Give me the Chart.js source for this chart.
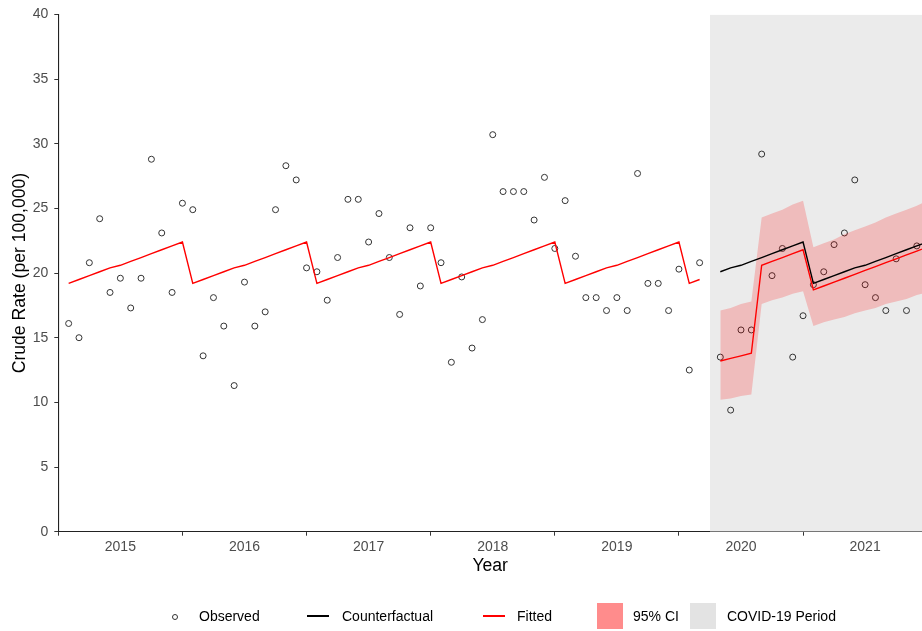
<!DOCTYPE html>
<html>
<head>
<meta charset="utf-8">
<script src="https://cdn.jsdelivr.net/npm/chart.js@4/dist/chart.umd.min.js"></script>
<style>
  html, body { margin: 0; padding: 0; background: #fff; overflow: hidden; }
  #wrap { position: relative; width: 922px; height: 631px; }
  #legend { position: absolute; left: 0; top: 603px; width: 922px; height: 26px;
            font: 14px "Liberation Sans", Arial, sans-serif; color: #000; }
  #legend .txt { position: absolute; top: 0; line-height: 26px; white-space: nowrap; }
  #legend .key { position: absolute; }
</style>
</head>
<body>
<div id="wrap">
  <canvas id="chart" width="922" height="631"></canvas>
  <div id="legend">
    <div class="key" style="left:172px;top:11px;width:4px;height:4px;border:1px solid #333;border-radius:50%;"></div>
    <div class="txt" style="left:199px;">Observed</div>
    <div class="key" style="left:307px;top:12px;width:22px;height:2px;background:#000;"></div>
    <div class="txt" style="left:342px;">Counterfactual</div>
    <div class="key" style="left:483px;top:12px;width:22px;height:2px;background:#ff0000;"></div>
    <div class="txt" style="left:517px;">Fitted</div>
    <div class="key" style="left:597px;top:0;width:26px;height:26px;background:#ff8c8c;"></div>
    <div class="txt" style="left:633px;">95% CI</div>
    <div class="key" style="left:690px;top:0;width:26px;height:26px;background:#e3e3e3;"></div>
    <div class="txt" style="left:727px;">COVID-19 Period</div>
  </div>
</div>
<script>
// Monthly crude rate per 100,000; month 1 = January 2015
const years = ['2015', '2016', '2017', '2018', '2019', '2020', '2021'];

// Observed rates before the COVID-19 period (Jan 2015 - Feb 2020)
const observedPre = [
  16.1, 15.0, 20.8, 24.2, 18.5, 19.6, 17.3, 19.6, 28.8, 23.1, 18.5, 25.4,
  24.9, 13.6, 18.1, 15.9, 11.3, 19.3, 15.9, 17.0, 24.9, 28.3, 27.2, 20.4,
  20.1, 17.9, 21.2, 25.7, 25.7, 22.4, 24.6, 21.2, 16.8, 23.5, 19.0, 23.5,
  20.8, 13.1, 19.7, 14.2, 16.4, 30.7, 26.3, 26.3, 26.3, 24.1, 27.4, 21.9,
  25.6, 21.3, 18.1, 18.1, 17.1, 18.1, 17.1, 27.7, 19.2, 19.2, 17.1, 20.3,
  12.5, 20.8
];
// Observed rates during the COVID-19 period (Apr 2020 onward)
const observedCovid = [
  13.5, 9.4, 15.6, 15.6, 29.2, 19.8, 21.9, 13.5, 16.7, 19.1,
  20.1, 22.2, 23.1, 27.2, 19.1, 18.1, 17.1, 21.1, 17.1, 22.1
];

// Model fit, pre-period
const fittedPre = [
  19.2, 19.5, 19.8, 20.1, 20.4, 20.6, 20.9, 21.2, 21.5, 21.8, 22.1, 22.4,
  19.2, 19.5, 19.8, 20.1, 20.4, 20.6, 20.9, 21.2, 21.5, 21.8, 22.1, 22.4,
  19.2, 19.5, 19.8, 20.1, 20.4, 20.6, 20.9, 21.2, 21.5, 21.8, 22.1, 22.4,
  19.2, 19.5, 19.8, 20.1, 20.4, 20.6, 20.9, 21.2, 21.5, 21.8, 22.1, 22.4,
  19.2, 19.5, 19.8, 20.1, 20.4, 20.6, 20.9, 21.2, 21.5, 21.8, 22.1, 22.4,
  19.2, 19.5
];
// Model fit, counterfactual and 95% CI during the COVID-19 period
const fittedCovid = [
  13.2, 13.4, 13.6, 13.8, 20.6, 20.9, 21.2, 21.5, 21.8, 18.7, 19.0,
  19.3, 19.6, 19.9, 20.2, 20.5, 20.8, 21.1, 21.4, 21.7, 22.0
];
const counterfactual = [
  20.1, 20.4, 20.6, 20.9, 21.2, 21.5, 21.8, 22.1, 22.4, 19.2, 19.5,
  19.8, 20.1, 20.4, 20.6, 20.9, 21.2, 21.5, 21.8, 22.1, 22.4
];
const ciUpper = [
  17.1, 17.3, 17.6, 17.8, 24.3, 24.6, 24.9, 25.3, 25.6, 22.0, 22.3,
  22.6, 23.0, 23.3, 23.6, 23.9, 24.3, 24.6, 24.9, 25.2, 25.6
];
const ciLower = [
  10.2, 10.3, 10.5, 10.6, 17.6, 17.9, 18.1, 18.4, 18.6, 15.9, 16.2,
  16.4, 16.6, 16.9, 17.1, 17.3, 17.6, 17.8, 18.0, 18.3, 18.5
];

const preStartMonth = 1;      // Jan 2015
const covidStartMonth = 64;   // first modelled month in the COVID-19 period
const covidPeriod = [63, 86]; // shaded span (months)
const axisMax = 83.5;

const toPoints = (vals, start) => vals.map((v, i) => ({ x: start + i, y: v }));

// Year boundaries carry tick marks; year labels sit mid-year
const tickMonths = [];
years.forEach((y, i) => { tickMonths.push(12 * i, 12 * i + 6); });

const FONT = '"Liberation Sans", Arial, sans-serif';

const lineStyle = (color, order) => ({
  borderColor: color, borderWidth: 1.4, pointRadius: 0, fill: false,
  tension: 0, showLine: true, order
});

new Chart(document.getElementById('chart'), {
  type: 'line',
  data: {
    datasets: [
      {
        label: 'COVID-19 Period',
        data: [{ x: covidPeriod[0], y: 40 }, { x: covidPeriod[1], y: 40 }],
        borderWidth: 0, pointRadius: 0, fill: 'origin',
        backgroundColor: '#ebebeb', order: 5
      },
      {
        label: 'Observed',
        data: toPoints(observedPre, preStartMonth).concat(toPoints(observedCovid, covidStartMonth)),
        showLine: false, pointRadius: 3, pointBorderWidth: 1,
        pointBorderColor: '#333', pointBackgroundColor: 'rgba(0,0,0,0)', order: 4
      },
      {
        label: '95% CI',
        data: toPoints(ciUpper, covidStartMonth),
        borderWidth: 0, pointRadius: 0, fill: '+1',
        backgroundColor: 'rgba(255,0,0,0.2)', order: 3
      },
      {
        label: '95% CI lower',
        data: toPoints(ciLower, covidStartMonth),
        borderWidth: 0, pointRadius: 0, fill: false, order: 3
      },
      Object.assign({ label: 'Counterfactual', data: toPoints(counterfactual, covidStartMonth) }, lineStyle('#000000', 2)),
      Object.assign({ label: 'Fitted', data: toPoints(fittedPre, preStartMonth) }, lineStyle('#ff0000', 1)),
      Object.assign({ label: 'Fitted (COVID-19)', data: toPoints(fittedCovid, covidStartMonth) }, lineStyle('#ff0000', 1))
    ]
  },
  options: {
    responsive: false,
    animation: false,
    layout: { autoPadding: false, padding: { top: 12.7, right: 0, bottom: 49.3, left: 0 } },
    plugins: { legend: { display: false }, tooltip: { enabled: false } },
    scales: {
      x: {
        type: 'linear', min: 0, max: axisMax,
        afterBuildTicks: s => { s.ticks = tickMonths.filter(v => v <= axisMax).map(v => ({ value: v })); },
        afterFit: s => { s.height = 50; s.paddingLeft = 0; s.paddingRight = 0; },
        ticks: {
          autoSkip: false, maxRotation: 0, padding: 3, color: '#4d4d4d',
          font: { family: FONT, size: 14 },
          callback: v => (v % 12 === 6 ? years[(v - 6) / 12] : '')
        },
        grid: {
          drawOnChartArea: false, drawTicks: true, tickLength: 4, tickWidth: 1,
          tickColor: c => (c.tick && c.tick.value % 12 === 0 ? '#333' : 'rgba(0,0,0,0)')
        },
        border: { display: true, color: '#222', width: 1.1 },
        title: {
          display: true, text: 'Year', color: '#000',
          font: { family: FONT, size: 17.6 }, padding: { top: 0, bottom: 5 }
        }
      },
      y: {
        min: 0, max: 40,
        afterFit: s => { s.width = 58.3; },
        ticks: { stepSize: 5, padding: 6, color: '#4d4d4d', font: { family: FONT, size: 14 } },
        grid: { drawOnChartArea: false, drawTicks: true, tickLength: 4, tickWidth: 1, tickColor: '#333' },
        border: { display: true, color: '#222', width: 1.1 },
        title: {
          display: true, text: 'Crude Rate (per 100,000)', color: '#000',
          font: { family: FONT, size: 17.6 }, padding: { top: 10, bottom: 0 }
        }
      }
    }
  }
});
</script>
</body>
</html>
